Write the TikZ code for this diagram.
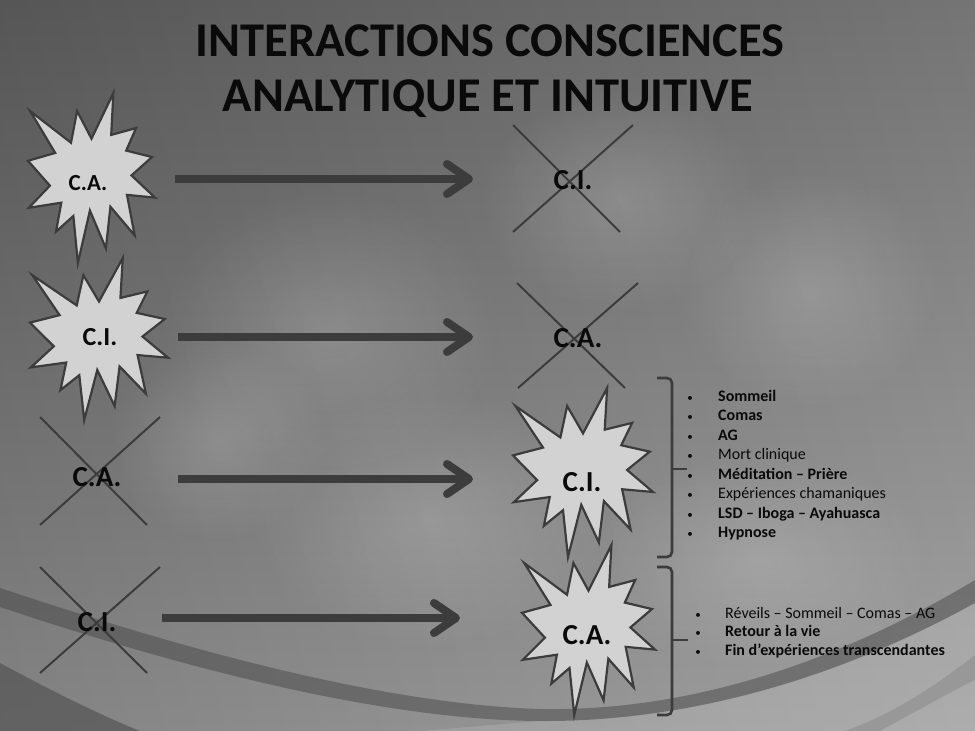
\documentclass[tikz,border=0pt]{standalone}
\usepackage{fontspec}
\setmainfont{Carlito}
\usetikzlibrary{arrows.meta,fadings}
\definecolor{ink}{HTML}{3C3C3C}
\definecolor{starfill}{HTML}{D2D2D2}
\definecolor{txt}{HTML}{0A0A0A}
\definecolor{bgTop}{RGB}{98,98,98}
\definecolor{bgBot}{RGB}{150,150,150}
\tikzfading[name=softglow, inner color=transparent!0, outer color=transparent!100]
\tikzset{
  boom/.style={draw=ink, fill=starfill, line width=2.2pt, line join=miter},
  lbl/.style={inner sep=0pt, text=txt, font=\bfseries\fontsize{#1}{#1}\selectfont},
  crossline/.style={draw=ink, line width=2pt},
  bigarrow/.style={draw=ink, line width=8pt, -{Straight Barb[length=22pt, width=30pt, line cap=round, line join=round]}},
  bracesty/.style={draw=ink, line width=2.6pt, rounded corners=5pt},
  itemtxt/.style={inner sep=0pt, anchor=base west, text=txt, font=\fontsize{16}{18}\selectfont},
  bul/.style={inner sep=0pt, anchor=base, text=txt, font=\fontsize{11}{12}\selectfont},
  glow/.style={fill=white, path fading=softglow},
}
\newcommand\boomshape[4]{%
  \begin{scope}[shift={(#1,#2)}, x={#3pt/100}, y={-#4pt/100}]
    \path[boom] (50,26.85) -- (67.23,0) -- (65.53,24.65) -- (85.09,20.63) -- (77.32,33.87)
      -- (97.67,37.67) -- (81.51,48.50) -- (100,61.53) -- (77.95,59.92) -- (84.00,83.77)
      -- (64.91,66.93) -- (61.33,91.38) -- (48.76,69.14) -- (39.28,100) -- (35.72,72.35)
      -- (22.05,81.56) -- (26.24,64.52) -- (0.63,67.53) -- (17.23,54.51) -- (0,39.88)
      -- (21.42,35.26) -- (1.71,10.63) -- (33.85,29.26) -- (38.67,10.63) -- cycle;
  \end{scope}}
\begin{document}
\begin{tikzpicture}[x=1pt, y=-1pt]
\useasboundingbox (0,0) rectangle (975,731);
% background
\shade[top color=bgTop, bottom color=bgBot] (0,0) rectangle (975,731);
\shade[left color=black, right color=white, opacity=0.12] (0,0) rectangle (975,731);
\begin{scope}[opacity=0.16]
  \fill[glow] (330,330) ellipse (170 and 140);
  \fill[glow] (620,200) ellipse (140 and 110);
  \fill[glow] (810,290) ellipse (130 and 120);
  \fill[glow] (430,520) ellipse (180 and 130);
  \fill[glow] (220,440) ellipse (110 and 100);
  \fill[glow] (760,560) ellipse (170 and 110);
\end{scope}
% bottom swooshes
\fill[black!70, opacity=0.6] (0,663) .. controls (50,690) and (100,715) .. (140,731) -- (0,731) -- cycle;
\fill[black!75, opacity=0.45] (0,588) .. controls (180,648) and (380,704) .. (540,709)
   .. controls (700,712) and (850,655) .. (975,580) -- (975,603)
   .. controls (850,672) and (700,722) .. (540,721)
   .. controls (380,720) and (180,667) .. (0,607) -- cycle;
\fill[white, opacity=0.12] (540,721) .. controls (700,722) and (850,672) .. (975,603) -- (975,731) -- (420,731) -- cycle;
\fill[black!60, opacity=0.25] (975,655) .. controls (930,690) and (890,715) .. (845,731) -- (880,731)
   .. controls (915,712) and (950,692) .. (975,680) -- cycle;
% title
\node[lbl=48.5, anchor=base] (t1) at (490,56) {INTERACTIONS CONSCIENCES};
\node[lbl=48.5, anchor=base] (t2) at (488,111) {ANALYTIQUE ET INTUITIVE};
% explosions
\boomshape{28}{93}{127}{170}
\boomshape{30}{258}{138}{162}
\boomshape{513}{388}{140}{169}
\boomshape{522}{545}{133}{170}
\node[lbl=23] (sa1) at (88,183) {C.A.};
\node[lbl=26] (si1) at (100,337) {C.I.};
\node[lbl=29] (si2) at (582,482) {C.I.};
\node[lbl=29] (sa2) at (587,635) {C.A.};
% crossed-out states
\draw[crossline] (513,125) -- (620,232) (633,125) -- (513,232);
\draw[crossline] (517,283) -- (625,388) (638,283) -- (518,388);
\draw[crossline] (40,417) -- (147,525) (160,417) -- (40,525);
\draw[crossline] (40,567) -- (147,673) (160,567) -- (40,673);
\node[lbl=29] (xi1) at (573,180) {C.I.};
\node[lbl=29] (xa1) at (578,338) {C.A.};
\node[lbl=29] (xa2) at (97,477) {C.A.};
\node[lbl=29] (xi2) at (97,622) {C.I.};
% arrows
\coordinate (s1) at (175,179); \coordinate (e1) at (473,179);
\coordinate (s2) at (178,337); \coordinate (e2) at (473,337);
\coordinate (s3) at (178,479); \coordinate (e3) at (473,479);
\coordinate (s4) at (162,618); \coordinate (e4) at (460,618);
\draw[bigarrow] (s1) -- (e1);
\draw[bigarrow] (s2) -- (e2);
\draw[bigarrow] (s3) -- (e3);
\draw[bigarrow] (s4) -- (e4);
% braces
\draw[bracesty] (657,378) -- (672,378) -- (672,557) -- (657,557);
\draw[ink, line width=2.6pt] (672,469) -- (687,469);
\draw[bracesty] (657,567) -- (672,567) -- (672,715) -- (657,715);
\draw[ink, line width=2.6pt] (672,640) -- (688,640);
% list 1
\foreach \t [count=\i, evaluate=\i as \yy using 381.5+19.5*\i] in
  {{\bfseries Sommeil}, {\bfseries Comas}, {\bfseries AG}, {Mort clinique},
   {\bfseries Méditation – Prière}, {Expériences chamaniques},
   {\bfseries LSD – Iboga – Ayahuasca}, {\bfseries Hypnose}} {
  \node[bul] (ba\i) at (690,\yy) {•};
  \node[itemtxt] (la\i) at (718,\yy) {\t};
}
% list 2
\foreach \t [count=\i, evaluate=\i as \yy using 599.5+18.5*\i] in
  {{Réveils – Sommeil – Comas – AG}, {\bfseries Retour à la vie},
   {\bfseries Fin d’expériences transcendantes}} {
  \node[bul] (bb\i) at (698,\yy) {•};
  \node[itemtxt] (lb\i) at (725,\yy) {\t};
}
\end{tikzpicture}
\end{document}
